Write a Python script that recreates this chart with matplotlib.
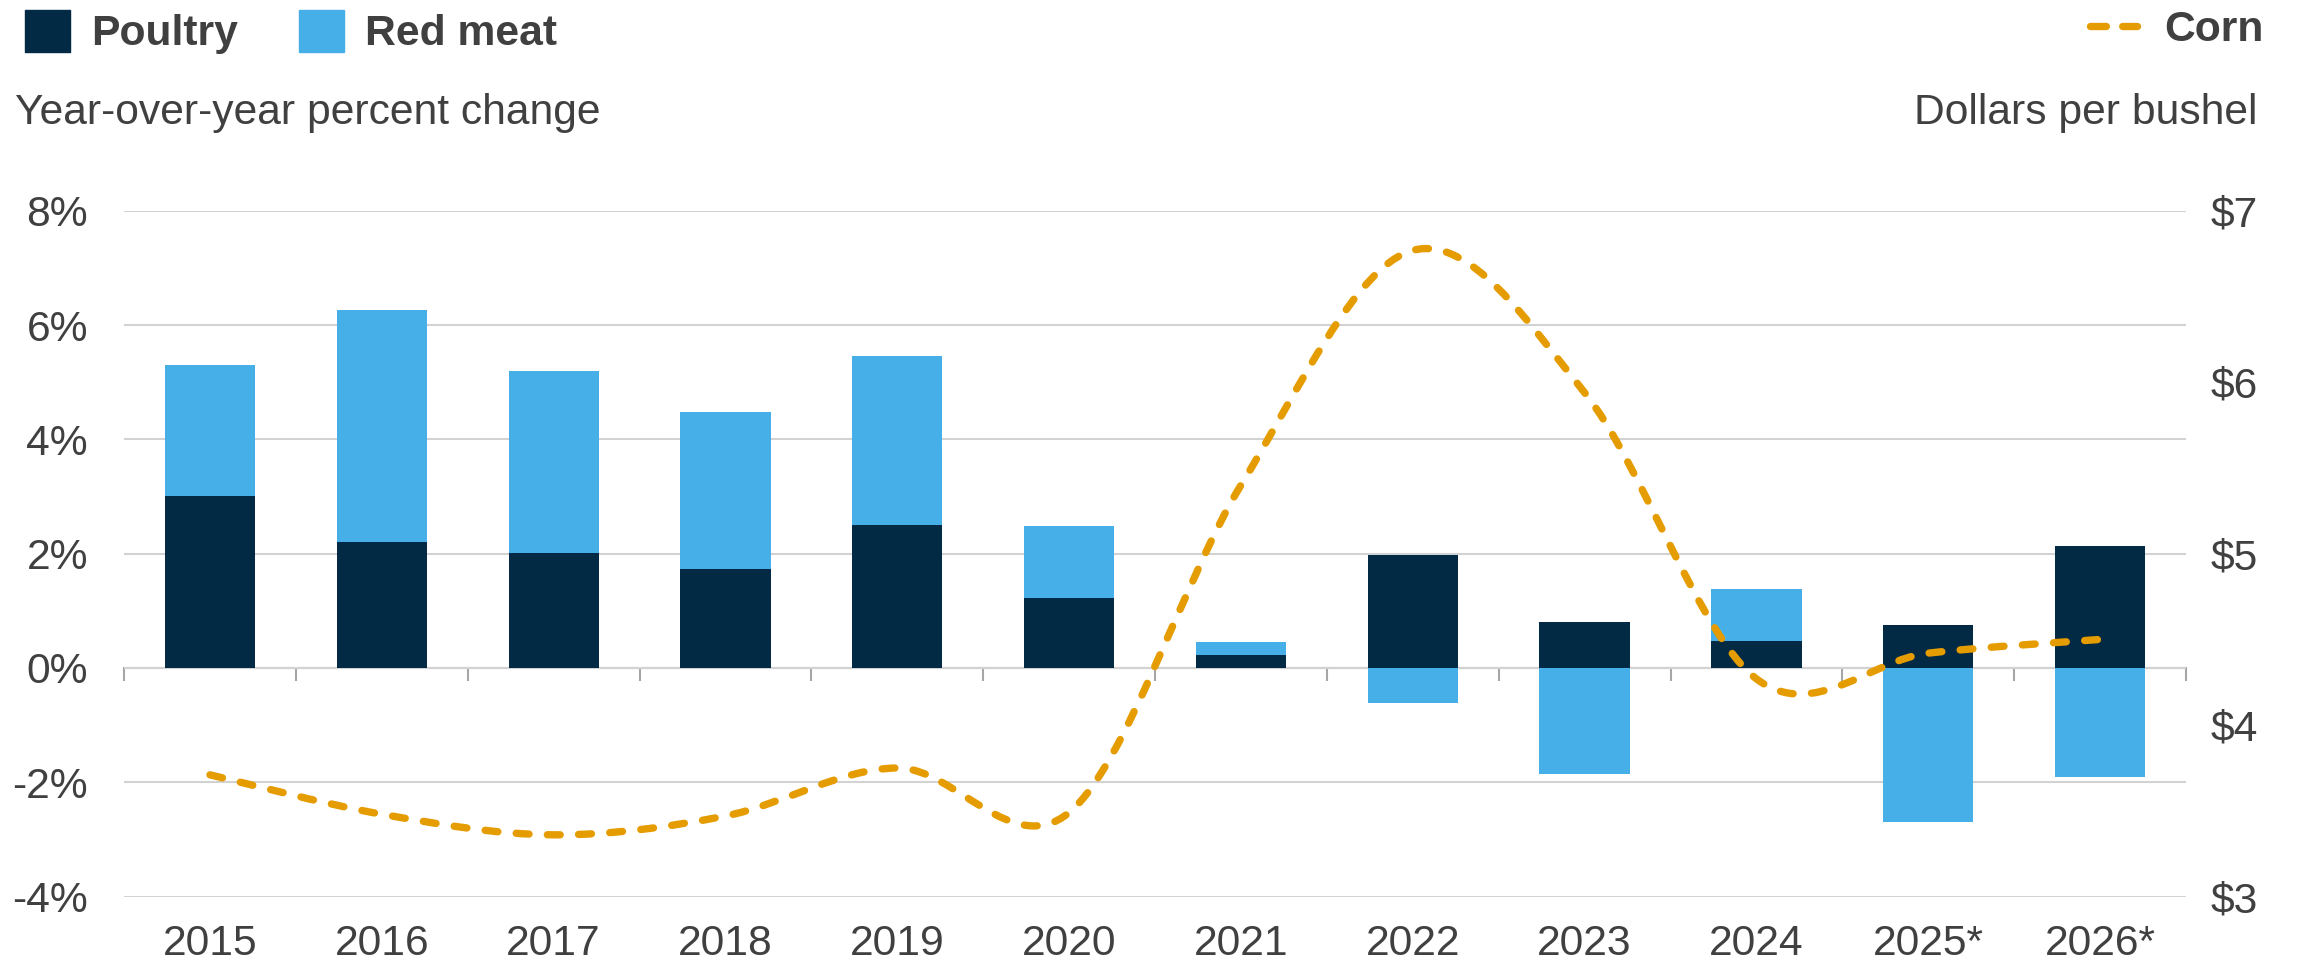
import matplotlib.pyplot as plt
import numpy as np
from matplotlib.path import Path
from matplotlib.patches import PathPatch, Patch
from matplotlib.lines import Line2D

plt.rcParams['font.family'] = ['Liberation Sans', 'DejaVu Sans']

# values
years = ['2015', '2016', '2017', '2018', '2019', '2020', '2021', '2022',
         '2023', '2024', '2025*', '2026*']
poultry = [3.01, 2.21, 2.01, 1.74, 2.51, 1.23, 0.22, 1.97, 0.81, 0.47, 0.76, 2.13]
red_meat = [2.30, 4.05, 3.18, 2.74, 2.95, 1.25, 0.24, -0.62, -1.85, 0.92, -2.69, -1.91]
corn = [3.71, 3.48, 3.36, 3.47, 3.75, 3.49, 5.40, 6.77, 5.94, 4.27, 4.42, 4.50]

pct_ticks = [-4, -2, 0, 2, 4, 6, 8]
usd_ticks = [3, 4, 5, 6, 7]

navy = '#022a44'
sky = '#47afe8'
gold = '#e59c00'
txt = '#404040'
grid_grey = '#d2d2d2'
axis_grey = '#a6a6a6'
fs = 30.7
corn_lw = 5.3
corn_dash = (0, (1.74, 2.5))

fig = plt.figure(figsize=(23.02, 9.69), dpi=100)
ax = fig.add_axes([0.0539, 0.0748, 0.8957, 0.7075])

x = np.arange(len(years))
width = 0.525
p = np.array(poultry)
r = np.array(red_meat)
# red meat sits on top of poultry when positive, hangs from zero when negative
red_base = np.where(r > 0, p, 0)
ax.bar(x, p, width, color=navy, zorder=3)
ax.bar(x, r, width, bottom=red_base, color=sky, zorder=3)

ax.set_xlim(-0.5, len(years) - 0.5)
ax.set_ylim(pct_ticks[0], pct_ticks[-1])
ax.set_yticks(pct_ticks, [f'{v}%' for v in pct_ticks])
ax.set_xticks(x, years)
ax.yaxis.grid(True, color=grid_grey, lw=1.5)
ax.set_axisbelow(True)
ax.tick_params(axis='y', length=0, pad=26, labelsize=fs, labelcolor=txt)
ax.tick_params(axis='x', length=0, pad=20, labelsize=fs, labelcolor=txt)
for s in ax.spines.values():
    s.set_visible(False)

# zero line with category separator ticks
zero_loc = (0 - pct_ticks[0]) / (pct_ticks[-1] - pct_ticks[0])
sec = ax.secondary_xaxis(zero_loc)
sec.set_xticks(np.arange(-0.5, len(years), 1))
sec.tick_params(direction='out', length=9, width=1.5, color=axis_grey, labelbottom=False, labeltop=False)
for s in sec.spines.values():
    s.set_color(axis_grey)
    s.set_linewidth(1.5)

# corn on right axis, smoothed like the spreadsheet line
ax2 = ax.twinx()
ax2.set_ylim(usd_ticks[0], usd_ticks[-1])
ax2.set_yticks(usd_ticks, [f'${v}' for v in usd_ticks])
ax2.tick_params(axis='y', length=0, pad=18, labelsize=fs, labelcolor=txt)
for s in ax2.spines.values():
    s.set_visible(False)

cx = x.astype(float)
cy = np.array(corn)
px = np.concatenate([[cx[0]], cx, [cx[-1]]])
py = np.concatenate([[cy[0]], cy, [cy[-1]]])
verts = [(cx[0], cy[0])]
for i in range(len(cx) - 1):
    c1 = (cx[i] + (px[i + 2] - px[i]) / 6, cy[i] + (py[i + 2] - py[i]) / 6)
    c2 = (cx[i + 1] - (px[i + 3] - px[i + 1]) / 6, cy[i + 1] - (py[i + 3] - py[i + 1]) / 6)
    verts += [c1, c2, (cx[i + 1], cy[i + 1])]
codes = [Path.MOVETO] + [Path.CURVE4] * (len(verts) - 1)
ax2.add_patch(PathPatch(Path(verts, codes), fill=False, edgecolor=gold, lw=corn_lw,
                        linestyle=corn_dash, capstyle='round', zorder=4))

# legends and axis titles
fig.legend([Patch(color=navy), Patch(color=sky)], ['Poultry', 'Red meat'],
           loc='upper left', bbox_to_anchor=(0.0092, 0.994), ncol=2, frameon=False,
           prop={'weight': 'bold', 'size': fs}, labelcolor=txt,
           handlelength=1.05, handleheight=1.12, handletextpad=0.5,
           columnspacing=1.42, borderaxespad=0, borderpad=0.1)
fig.legend([Line2D([], [], color=gold, lw=corn_lw, ls=(0, (2.15, 2.23)), dash_capstyle='round')],
           ['Corn'], loc='upper right', bbox_to_anchor=(2268 / 2302, 0.994), frameon=False,
           prop={'weight': 'bold', 'size': fs}, labelcolor=txt,
           handlelength=1.12, handletextpad=0.63, borderaxespad=0, borderpad=0.1)
fig.text(15 / 2302, 1 - 113 / 969, 'Year-over-year percent change', fontsize=fs,
         color=txt, ha='left', va='center')
fig.text(2257 / 2302, 1 - 113 / 969, 'Dollars per bushel', fontsize=fs,
         color=txt, ha='right', va='center')

fig.savefig('out.png', dpi=100)
